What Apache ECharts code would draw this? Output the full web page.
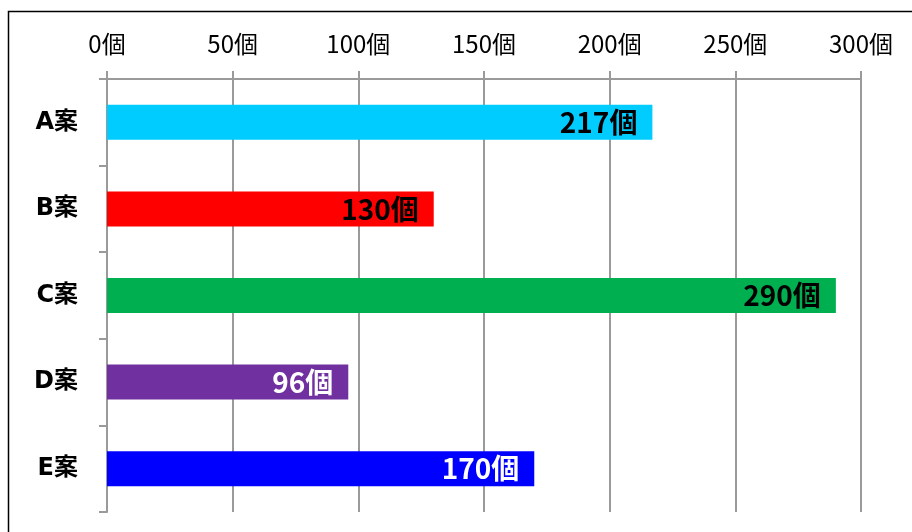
<!DOCTYPE html>
<html>
<head>
<meta charset="utf-8">
<script src="https://cdn.jsdelivr.net/npm/echarts@6/dist/echarts.min.js"></script>
<style>
  html, body { margin: 0; padding: 0; background: #fff; }
  #chart { width: 912px; height: 532px; }
</style>
</head>
<body>
<div id="chart"></div>
<script>
var categories = ['A案', 'B案', 'C案', 'D案', 'E案'];
var values = [217, 130, 290, 96, 170];
var barColors = ['#00CCFF', '#FF0000', '#00B050', '#7030A0', '#0000FF'];
var labelColors = ['#000', '#000', '#000', '#fff', '#fff'];
var unit = '個';

var font = '"Noto Sans CJK JP", sans-serif';
var catFont = '"DejaVu Sans", "Noto Sans CJK JP", sans-serif';
var gridGray = '#9a9a9a';

var seriesData = [];
for (var i = 0; i < values.length; i++) {
  seriesData.push({
    value: values[i],
    itemStyle: { color: barColors[i] },
    label: { color: labelColors[i] }
  });
}

var chart = echarts.init(document.getElementById('chart'));

var option = {
  animation: false,
  textStyle: { fontFamily: font },
  graphic: [{
    type: 'rect',
    shape: { x: 8.5, y: 11.5, width: 1000, height: 1000 },
    style: { fill: 'none', stroke: '#000', lineWidth: 1.5 }
  }],
  grid: { left: 107, top: 79, right: 51, bottom: 20 },
  xAxis: {
    type: 'value',
    position: 'top',
    min: 0,
    max: 300,
    interval: 50,
    axisLine: { show: true, lineStyle: { color: gridGray, width: 2 } },
    axisTick: { show: true, length: 8, lineStyle: { color: gridGray, width: 2 } },
    splitLine: { show: true, lineStyle: { color: gridGray, width: 2 } },
    axisLabel: {
      formatter: '{value}' + unit,
      color: '#000',
      fontSize: 24,
      margin: 23,
      fontFamily: font
    }
  },
  yAxis: {
    type: 'category',
    data: categories,
    inverse: true,
    axisLine: { show: true, lineStyle: { color: gridGray, width: 2 } },
    axisTick: { show: true, length: 8, lineStyle: { color: gridGray, width: 2 } },
    axisLabel: {
      color: '#000',
      fontSize: 24,
      fontWeight: 'bold',
      margin: 29,
      fontFamily: catFont
    }
  },
  series: [{
    type: 'bar',
    data: seriesData,
    barWidth: 35,
    label: {
      show: true,
      position: 'insideRight',
      distance: 15,
      formatter: function (p) { return p.value + unit; },
      fontSize: 28,
      fontWeight: 'bold',
      fontFamily: font
    }
  }]
};

chart.setOption(option);
</script>
</body>
</html>
